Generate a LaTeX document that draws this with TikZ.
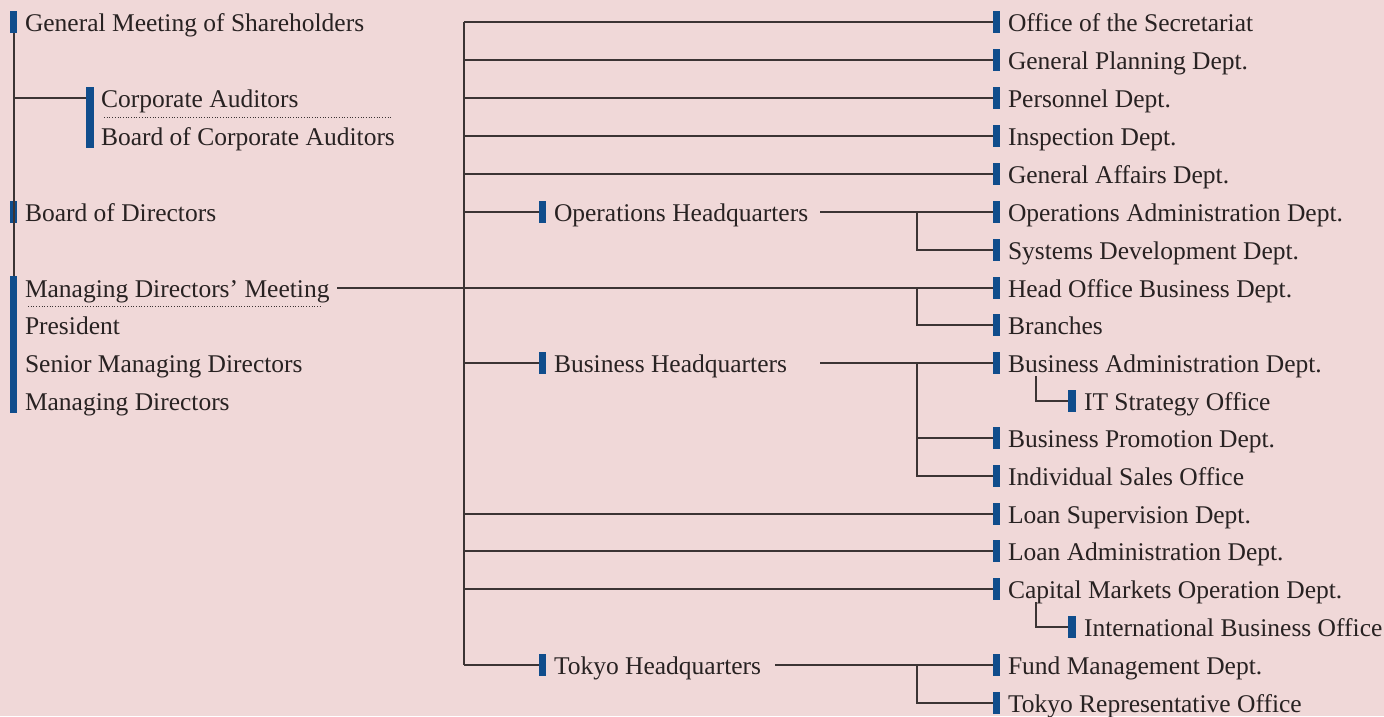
\documentclass[tikz,border=0pt]{standalone}
\usepackage{fontspec}
\setmainfont{Liberation Serif}
\definecolor{bg}{RGB}{240,216,216}
\definecolor{barblue}{RGB}{16,77,140}
\definecolor{txt}{RGB}{40,34,34}
\definecolor{ln}{RGB}{60,52,52}
\begin{document}
\begin{tikzpicture}[x=1pt,y=-1pt,
  bar/.style={fill=barblue, draw=none, minimum width=7.5pt, minimum height=22pt, inner sep=0pt, outer sep=0pt},
  tallbar/.style={bar, minimum height=#1},
  lbl/.style={anchor=base west, inner sep=0pt, outer sep=0pt, text=txt, font=\fontsize{25.5}{30}\selectfont},
  conn/.style={draw=ln, line width=1.4pt},
  dots/.style={draw=ln, line width=0.9pt, dash pattern=on 0.9pt off 1.8pt}]
\fill[bg] (0,0) rectangle (1384,716);
\useasboundingbox (0,0) rectangle (1384,716);

% ---------- left column ----------
\node[bar] (gmb) at (13.5,22) {};
\node[lbl] (gm) at (25,31) {General Meeting of Shareholders};
\node[tallbar=61pt] (cab) at (90,117) {};
\node[lbl] (ca) at (101,107) {Corporate Auditors};
\node[lbl] (bca) at (101,145) {Board of Corporate Auditors};
\node[bar] (bdb) at (13.5,212) {};
\node[lbl] (bd) at (25,221) {Board of Directors};
\node[tallbar=137pt] (mdb) at (13.5,344.5) {};
\node[lbl] (mdm) at (25,297) {Managing Directors’ Meeting};
\node[lbl] (pres) at (25,334) {President};
\node[lbl] (smd) at (25,372) {Senior Managing Directors};
\node[lbl] (md) at (25,410) {Managing Directors};

\draw[dots] (104,117) -- (392,117);
\draw[dots] (28,306) -- (322,306);

\draw[conn] ([xshift=0.5pt]gmb.south) -- ([xshift=0.5pt]mdb.north);
\coordinate (caj) at (14,98);
\draw[conn] (caj) -- (caj -| cab.west);

% ---------- trunk ----------
\coordinate (T) at (464,22);
\coordinate (Tb) at (464,665);
\draw[conn] (T) -- (Tb);

% ---------- headquarters ----------
\node[bar] (opsb) at (542.5,212) {};
\node[lbl] (ops) at (554,221) {Operations Headquarters};
\node[bar] (busb) at (542.5,363) {};
\node[lbl] (bus) at (554,372) {Business Headquarters};
\node[bar] (tokb) at (542.5,665) {};
\node[lbl] (tok) at (554,674) {Tokyo Headquarters};

% ---------- right column ----------
\def\rx{996.5}
\foreach \n/\y/\t in {r1/22/{Office of the Secretariat},
  r2/60/{General Planning Dept.},
  r3/98/{Personnel Dept.},
  r4/136/{Inspection Dept.},
  r5/174/{General Affairs Dept.},
  r6/212/{Operations Administration Dept.},
  r7/250/{Systems Development Dept.},
  r8/288/{Head Office Business Dept.},
  r9/325/{Branches},
  r10/363/{Business Administration Dept.},
  r11/438/{Business Promotion Dept.},
  r12/476/{Individual Sales Office},
  r13/514/{Loan Supervision Dept.},
  r14/551/{Loan Administration Dept.},
  r15/589/{Capital Markets Operation Dept.},
  r16/665/{Fund Management Dept.},
  r17/703/{Tokyo Representative Office}}{
  \node[bar] (\n b) at (\rx,\y) {};
  \node[lbl] (\n) at (1008,\y+9) {\t};
}
\node[bar] (itb) at (1072,401) {};
\node[lbl] (it) at (1084,410) {IT Strategy Office};
\node[bar] (ibob) at (1072,627) {};
\node[lbl] (ibo) at (1084,636) {International Business Office};

% ---------- connectors from trunk ----------
\foreach \n in {r1,r2,r3,r4,r5,r13,r14,r15}{
  \draw[conn] (T |- \n b.west) -- (\n b.west);
}
\draw[conn] (T |- opsb.west) -- (opsb.west);
\draw[conn] (T |- busb.west) -- (busb.west);
\draw[conn] (T |- tokb.west) -- (tokb.west);

% Managing Directors' Meeting line
\coordinate (mdmE) at (337,288);
\draw[conn] (mdmE) -- (r8b.west);
\coordinate (j8) at (917,288);
\draw[conn] (j8) |- (r9b.west);

% Operations HQ
\coordinate (opsE) at (820,212);
\draw[conn] (opsE) -- (r6b.west);
\coordinate (j6) at (917,212);
\draw[conn] (j6) |- (r7b.west);

% Business HQ
\coordinate (busE) at (820,363);
\draw[conn] (busE) -- (r10b.west);
\coordinate (j10) at (917,363);
\draw[conn] (j10) |- (r12b.west);
\draw[conn] (j10 |- r11b.west) -- (r11b.west);
\coordinate (itj) at (1036,376);
\draw[conn] (itj) |- (itb.west);

% Capital markets
\coordinate (iboj) at (1036,602);
\draw[conn] (iboj) |- (ibob.west);

% Tokyo HQ
\coordinate (tokE) at (775,665);
\draw[conn] (tokE) -- (r16b.west);
\coordinate (j16) at (917,665);
\draw[conn] (j16) |- (r17b.west);
\end{tikzpicture}
\end{document}
